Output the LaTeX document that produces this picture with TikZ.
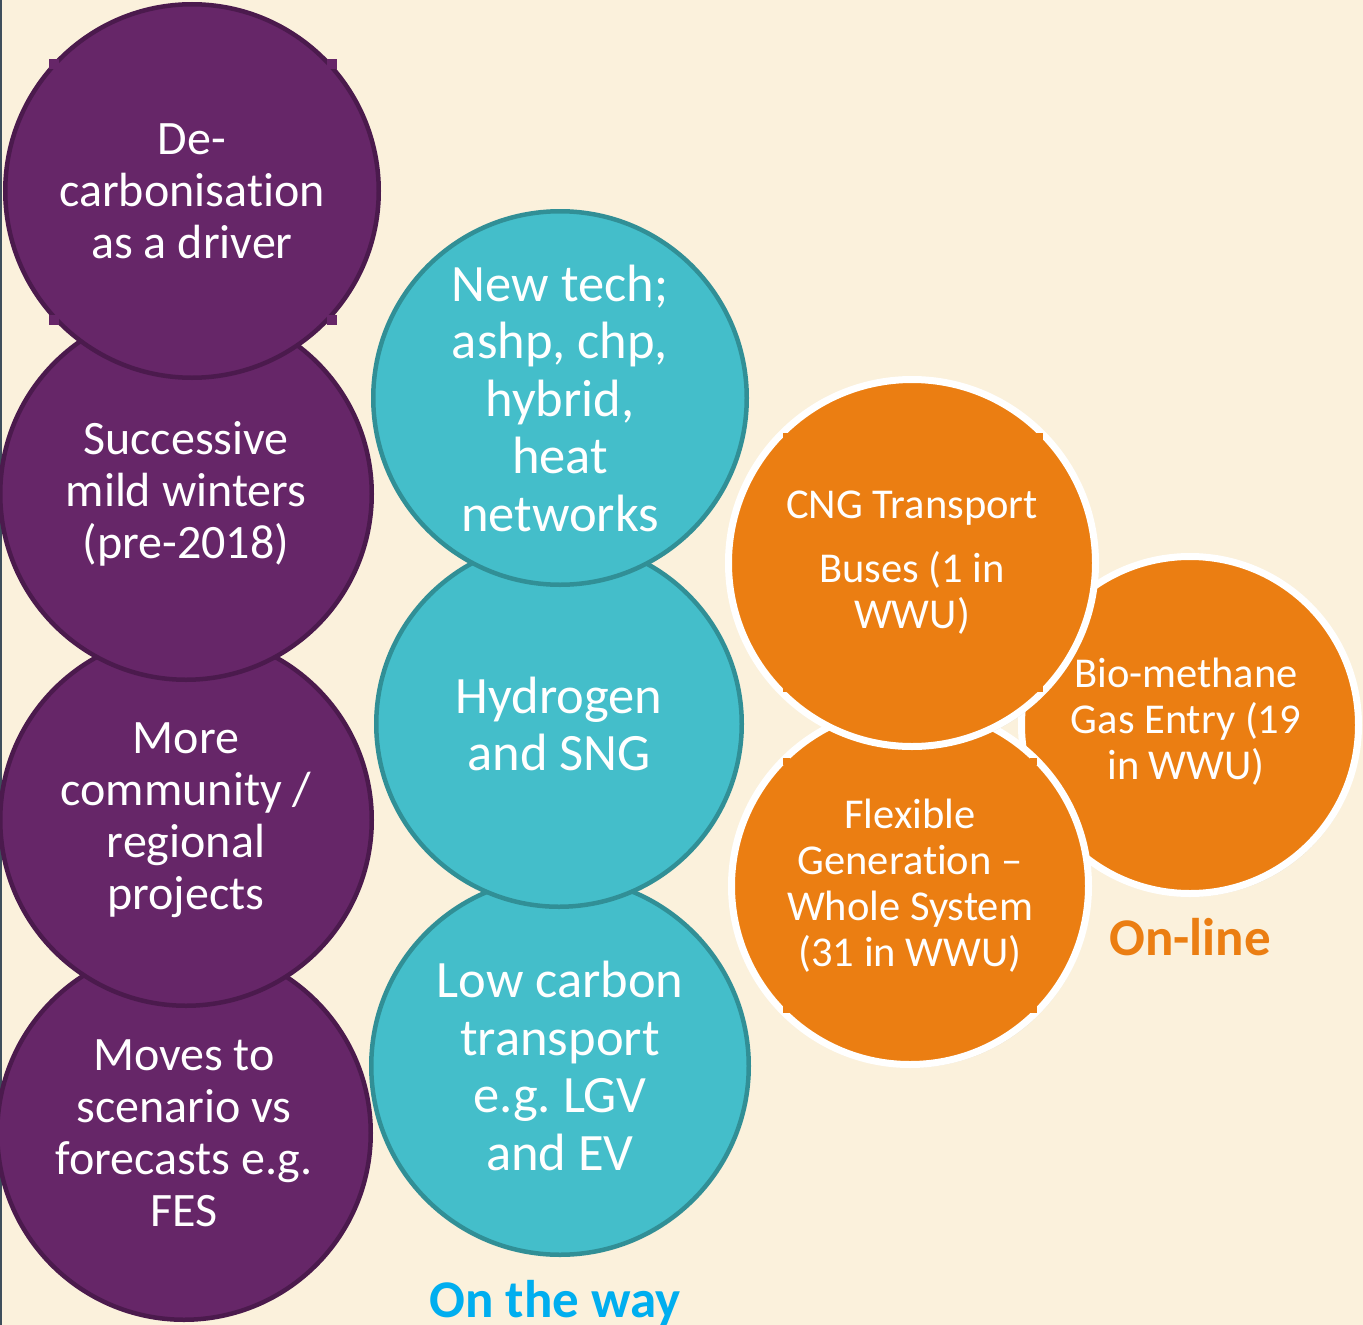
\documentclass[tikz,border=0pt]{standalone}
\usepackage{fontspec}
\setmainfont{Carlito}[Ligatures={NoCommon,NoContextual}]
\usetikzlibrary{shadows}
\frenchspacing

\definecolor{paper}{HTML}{FBF1DC}
\definecolor{plumfill}{HTML}{662668}
\definecolor{plumline}{HTML}{4B1A4D}
\definecolor{tealfill}{HTML}{44BECA}
\definecolor{tealline}{HTML}{318F96}
\definecolor{amber}{HTML}{EB7E12}
\definecolor{skyblue}{HTML}{00AEEF}
\definecolor{edgeline}{HTML}{3E4E5C}

\tikzset{
  bubble/.style={circle, inner sep=0pt, outer sep=0pt, align=center, text=white},
  plum/.style={bubble, fill=plumfill, draw=plumline, line width=4.5pt,
    minimum size=2*#1pt-4.5pt, font=\fontsize{48}{52}\selectfont},
  tealb/.style={bubble, fill=tealfill, draw=tealline, line width=4.5pt,
    minimum size=2*#1pt-4.5pt, font=\fontsize{52.5}{57.5}\selectfont},
  amberb/.style={bubble, fill=amber, draw=white, line width=7pt,
    minimum size=2*#1pt-7pt, font=\fontsize{42.5}{46}\selectfont,
    drop shadow={shadow xshift=2pt, shadow yshift=-3pt, opacity=0.18}},
  status/.style={font=\bfseries\fontsize{53}{60}\selectfont, anchor=base},
}

\begin{document}
\begin{tikzpicture}[x=1pt, y=-1pt]
  % page and parchment
  \useasboundingbox (0,0) rectangle (1363,1325);
  \fill[paper] (0,0) rectangle (1363,1325);
  \fill[edgeline] (0,0) rectangle (2,1325);

  % left column: drivers (lower circles first so upper ones sit on top)
  \node[plum=189] (scenario)  at (184,1133) {Moves to\\scenario vs\\forecasts e.g.\\FES};
  \node[plum=188] (community) at (186,820)  {More\\community /\\regional\\projects};
  \node[plum=188] (winters)   at (186,494)  {Successive\\mild winters\\(pre-2018)};
  \node[plum=189] (decarb)    at (192,191)  {De-\\carbonisation\\as a driver};
  % text-box corners showing past the outline
  \foreach \cx/\cy/\dx/\dy in {49/59/1/1, 337/59/-1/1, 49/325/1/-1, 337/325/-1/-1}
    \fill[plumfill] (\cx,\cy) rectangle ++(10*\dx,10*\dy);

  % middle column: on the way
  \node[tealb=191] (lowcarbon) at (560,1066) {Low carbon\\transport\\e.g. LGV\\and EV};
  \node[tealb=185] (hydrogen)  at (559,724)  {Hydrogen\\and SNG};
  \node[tealb=189] (newtech)   at (560,398)  {New tech;\\ashp, chp,\\hybrid,\\heat\\networks};
  \node[status, text=skyblue] (ontheway) at (555,1317) {On the way};

  % right cluster: on-line
  \node[amberb=172] (biomethane) at (1190,725) {};
  \node[font=\fontsize{42.5}{46}\selectfont, text=white, align=center] (biotext) at (1186,722)
    {Bio-methane\\Gas Entry (19\\in WWU)};
  \node[amberb=182] (flexible) at (910,886) {Flexible\\Generation --\\Whole System\\(31 in WWU)};
  \foreach \cx/\cy/\dx/\dy in {783/758/1/1, 1037/758/-1/1, 783/1013/1/-1, 1037/1013/-1/-1}
    \fill[amber] (\cx,\cy) rectangle ++(7*\dx,7*\dy);
  \node[amberb=187] (cng) at (912,563) {CNG Transport\\[18pt]Buses (1 in\\WWU)};
  \foreach \cx/\cy/\dx/\dy in {783/433/1/1, 1043/433/-1/1, 783/692/1/-1, 1043/692/-1/-1}
    \fill[amber] (\cx,\cy) rectangle ++(7*\dx,7*\dy);
  \node[status, text=amber] (online) at (1190,955) {On-line};
\end{tikzpicture}
\end{document}
